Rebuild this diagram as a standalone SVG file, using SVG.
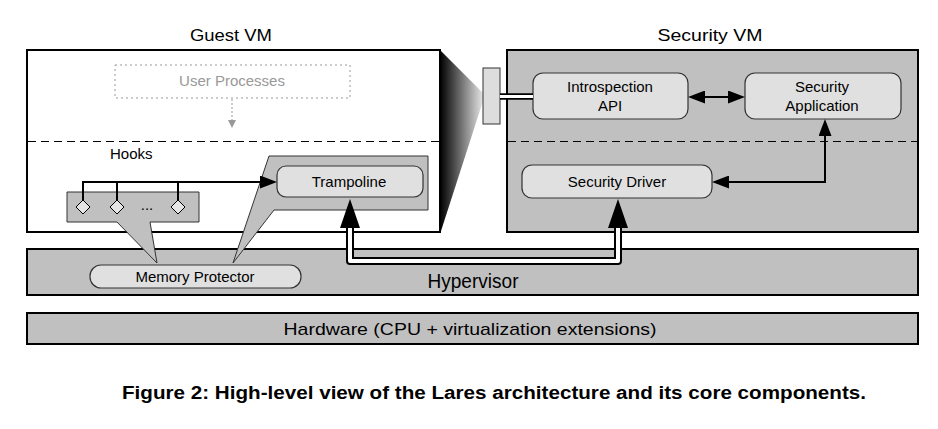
<svg xmlns="http://www.w3.org/2000/svg" width="938" height="429" viewBox="0 0 938 429">
<style>
text{font-family:"Liberation Sans",Arial,sans-serif;fill:#000}
.lbl{font-size:15px;text-anchor:middle}
.title{font-size:17px;text-anchor:middle}
.layer{fill:#c0c0c0;stroke:#000;stroke-width:2}
.comp{fill:#e0e0e0;stroke:#333;stroke-width:1.2}
.callout{fill:#c0c0c0;stroke:#333;stroke-width:1}
.sep{stroke:#000;stroke-width:1;stroke-dasharray:8,5;fill:none}
.wire{stroke:#000;stroke-width:2;fill:none}
.big{fill:#000}
</style>
<defs>
<marker id="ah" markerUnits="userSpaceOnUse" markerWidth="17" markerHeight="13" viewBox="0 0 17 13" refX="13" refY="6.5" orient="auto-start-reverse">
<path d="M0,0 L17,6.5 L0,13 z" fill="#000"/>
</marker>
<marker id="gah" markerUnits="userSpaceOnUse" markerWidth="8" markerHeight="8" viewBox="0 0 8 8" refX="4" refY="4" orient="auto">
<path d="M0,0 L8,4 L0,8 z" fill="#999"/>
</marker>
<linearGradient id="fade" x1="440" y1="0" x2="483" y2="0" gradientUnits="userSpaceOnUse">
<stop offset="0" stop-color="#000"/>
<stop offset="0.15" stop-color="#222"/>
<stop offset="1" stop-color="#e6e6e6"/>
</linearGradient>
</defs>

<rect width="938" height="429" fill="#fff"/>

<g id="hardware">
<rect class="layer" x="27" y="313" width="891" height="31"/>
<text class="title" x="470" y="335" textLength="373" lengthAdjust="spacingAndGlyphs">Hardware (CPU + virtualization extensions)</text>
</g>

<g id="hypervisor">
<rect class="layer" x="27" y="249" width="891" height="46"/>
<text x="473" y="288" font-size="20" text-anchor="middle" textLength="91" lengthAdjust="spacingAndGlyphs">Hypervisor</text>
</g>

<g id="guest-vm">
<rect x="27" y="50" width="413" height="182" fill="#fff" stroke="#000" stroke-width="2"/>
<text class="title" x="231" y="41" textLength="82" lengthAdjust="spacingAndGlyphs">Guest VM</text>
<line class="sep" x1="28" y1="141.5" x2="439" y2="141.5"/>
</g>

<g id="view-fade">
<polygon points="441,51 483,93 483,101 441,231" fill="url(#fade)"/>
</g>

<g id="security-vm">
<rect class="layer" x="507" y="50" width="411" height="182"/>
<text class="title" x="710" y="41" textLength="105" lengthAdjust="spacingAndGlyphs">Security VM</text>
<line class="sep" x1="508" y1="141.5" x2="917" y2="141.5"/>
</g>

<g id="user-processes">
<rect x="115" y="65" width="235" height="33" fill="none" stroke="#999" stroke-width="1" stroke-dasharray="2,3"/>
<text x="232" y="86" font-size="15" text-anchor="middle" style="fill:#999">User Processes</text>
</g>

<g id="hooks">
<polygon class="callout" points="67,192 199,192 199,222 150,222 157,263 117,222 67,222"/>
<text x="110" y="159" font-size="15">Hooks</text>
<polygon points="83,200 90,207 83,214 76,207" fill="#e6e6e6" stroke="#000" stroke-width="1"/>
<polygon points="117,200 124,207 117,214 110,207" fill="#e6e6e6" stroke="#000" stroke-width="1"/>
<polygon points="178,200 185,207 178,214 171,207" fill="#e6e6e6" stroke="#000" stroke-width="1"/>
<text x="147" y="210" font-size="15" text-anchor="middle">...</text>
</g>

<g id="trampoline">
<polygon class="callout" points="269,156 428,156 428,210 274,210 233,263"/>
<rect class="comp" x="277" y="166" width="146" height="31" rx="9"/>
<text class="lbl" x="349" y="187">Trampoline</text>
</g>

<g id="memory-protector">
<rect class="comp" x="90" y="265" width="211" height="23" rx="11"/>
<text class="lbl" x="195" y="282">Memory Protector</text>
</g>

<g id="introspection-port">
<rect x="483" y="68" width="17" height="56" fill="#ddd" stroke="#333" stroke-width="1"/>
</g>

<g id="introspection-api">
<rect class="comp" x="533" y="73" width="155" height="46" rx="10"/>
<text class="lbl" x="610" y="92">Introspection</text>
<text class="lbl" x="610" y="111">API</text>
</g>

<g id="security-application">
<rect class="comp" x="745" y="73" width="156" height="46" rx="10"/>
<text class="lbl" x="822" y="92">Security</text>
<text class="lbl" x="822" y="111">Application</text>
</g>

<g id="security-driver">
<rect class="comp" x="522" y="165" width="190" height="33" rx="10"/>
<text class="lbl" x="617" y="187">Security Driver</text>
</g>

<g id="connectors">
<line x1="232" y1="99" x2="232" y2="124" stroke="#999" stroke-width="1" stroke-dasharray="2,2" marker-end="url(#gah)"/>
<path class="wire" d="M117,200 V182 M178,200 V182"/>
<path class="wire" d="M83,200 V182 H273" marker-end="url(#ah)"/>
<line class="wire" x1="692" y1="97" x2="741" y2="97" marker-start="url(#ah)" marker-end="url(#ah)"/>
<path class="wire" d="M825,123 V182 H716" marker-start="url(#ah)" marker-end="url(#ah)"/>
<line x1="500" y1="96.5" x2="533" y2="96.5" stroke="#000" stroke-width="6.5"/>
<line x1="500" y1="96.5" x2="533" y2="96.5" stroke="#fff" stroke-width="3"/>
<path d="M350,226 V261 H618 V226" fill="none" stroke="#000" stroke-width="8" stroke-linejoin="round"/>
<path d="M350,226 V261 H618 V226" fill="none" stroke="#fff" stroke-width="4" stroke-linejoin="round"/>
<polygon class="big" points="350,199 360,228 340,228"/>
<polygon class="big" points="618,199 628,228 608,228"/>
</g>

<text x="494" y="399" font-size="17.5" font-weight="bold" text-anchor="middle" textLength="744" lengthAdjust="spacingAndGlyphs">Figure 2: High-level view of the Lares architecture and its core components.</text>
</svg>
